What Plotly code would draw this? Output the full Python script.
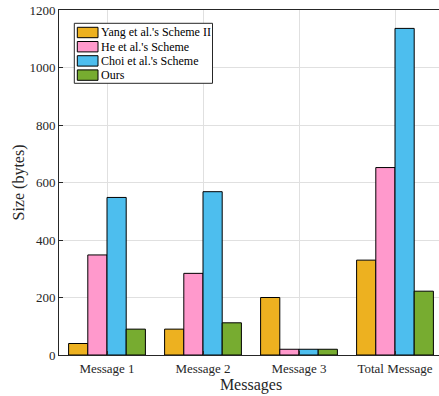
import plotly.graph_objects as go

categories = ["Message 1", "Message 2", "Message 3", "Total Message"]
series_names = ["Yang et al.'s Scheme II", "He et al.'s Scheme", "Choi et al.'s Scheme", "Ours"]
yang = [40, 90, 200, 330]
he = [348, 284, 20, 652]
choi = [548, 568, 20, 1136]
ours = [90, 112, 20, 222]
colors = ["#EDB120", "#FF99CC", "#4DBEEE", "#77AC30"]

W, H = 447, 396
ML, MR, MT, MB = 59, 4, 10, 41
PW, PH = W - ML - MR, H - MT - MB

fig = go.Figure()
for name, vals, c in zip(series_names, [yang, he, choi, ours], colors):
    fig.add_trace(go.Bar(x=categories, y=vals, name=name, showlegend=False,
                         marker=dict(color=c, line=dict(color="black", width=1))))

font = "Liberation Serif, Times New Roman, serif"

def px(x):
    return (x - ML) / PW

def py(y):
    return (H - MB - y) / PH

# compact MATLAB-style legend box
shapes = [dict(type="rect", xref="paper", yref="paper", x0=px(74.3), x1=px(212.5), y0=py(83.3), y1=py(23.3),
               line=dict(color="#262626", width=1), fillcolor="white", layer="above")]
annotations = []
row_y = [32.5, 46.7, 60.9, 75.1]
for name, c, ry in zip(series_names, colors, row_y):
    shapes.append(dict(type="rect", xref="paper", yref="paper", x0=px(77.3), x1=px(98),
                       y0=py(ry + 5.2), y1=py(ry - 5.2), line=dict(color="black", width=1),
                       fillcolor=c, layer="above"))
    annotations.append(dict(xref="paper", yref="paper", x=px(98.5), y=py(ry), text=name,
                            showarrow=False, xanchor="left", yanchor="middle",
                            font=dict(size=12, color="black", family=font)))

fig.update_layout(
    width=W, height=H,
    margin=dict(l=ML, r=MR, t=MT, b=MB),
    paper_bgcolor="white", plot_bgcolor="white",
    barmode="group", bargap=0.2, bargroupgap=0,
    font=dict(family=font, size=13, color="#262626"),
    showlegend=False,
    shapes=shapes, annotations=annotations,
    xaxis=dict(title=dict(text="Messages", font=dict(size=16), standoff=0),
               showgrid=True, gridcolor="#E0E0E0", showline=True, linecolor="#262626",
               mirror=True, ticks="inside", ticklen=4, tickcolor="#262626",
               ticklabelstandoff=1),
    yaxis=dict(title=dict(text="Size (bytes)", font=dict(size=16), standoff=0),
               range=[0, 1200], dtick=200, showgrid=True, gridcolor="#E0E0E0",
               showline=True, linecolor="#262626", mirror=True,
               ticks="inside", ticklen=4, tickcolor="#262626", zeroline=False),
)
fig.write_html("out.html", config={"displayModeBar": False},
               post_script="document.body.style.margin='0';document.body.style.overflow='hidden';")
